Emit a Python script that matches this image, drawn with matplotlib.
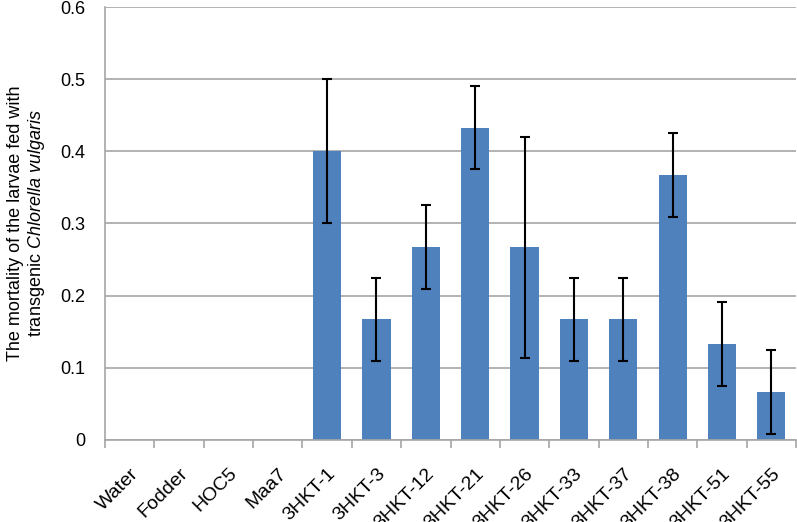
import matplotlib.pyplot as plt
import numpy as np

plt.rcParams['font.family'] = ['Liberation Sans', 'DejaVu Sans']
plt.rcParams['mathtext.fontset'] = 'custom'
plt.rcParams['mathtext.rm'] = 'Liberation Sans'
plt.rcParams['mathtext.it'] = 'Liberation Sans:italic'

categories = ['Water', 'Fodder', 'HOC5', 'Maa7', '3HKT-1', '3HKT-3', '3HKT-12',
              '3HKT-21', '3HKT-26', '3HKT-33', '3HKT-37', '3HKT-38', '3HKT-51',
              '3HKT-55']
mortality = [0, 0, 0, 0, 0.400, 0.167, 0.267, 0.433, 0.267, 0.167, 0.167,
             0.367, 0.133, 0.067]
errors = [np.nan, np.nan, np.nan, np.nan, 0.100, 0.058, 0.058, 0.058, 0.153,
          0.058, 0.058, 0.058, 0.058, 0.058]
yticks = [0, 0.1, 0.2, 0.3, 0.4, 0.5, 0.6]
ytick_labels = ['0', '0.1', '0.2', '0.3', '0.4', '0.5', '0.6']

fig = plt.figure(figsize=(7.97, 5.22), dpi=100)
ax = fig.add_axes([105 / 797, 1 - 440 / 522, 691 / 797, 433 / 522])

x = np.arange(len(categories))
ax.bar(x, mortality, width=0.57, color='#4F81BD', zorder=2)
ax.errorbar(x, mortality, yerr=errors, fmt='none', ecolor='black',
            elinewidth=1.5, capsize=3.8, capthick=1.5, zorder=3)

ax.set_xlim(-0.5, len(categories) - 0.5)
ax.set_ylim(0, 0.6)
ax.set_yticks(yticks)
ax.set_yticklabels(ytick_labels, fontsize=13)
ax.yaxis.grid(True, color='#A6A6A6', linewidth=1.2, zorder=0)
ax.set_axisbelow(True)
ax.tick_params(axis='y', length=0, pad=14)

ax.set_xticks(x)
ax.set_xticklabels(categories, rotation=45, ha='right', rotation_mode='anchor',
                   fontsize=14)
ax.set_xticks(np.arange(len(categories) + 1) - 0.5, minor=True)
ax.tick_params(axis='x', which='major', length=0, pad=18)
ax.tick_params(axis='x', which='minor', length=6, color='#A6A6A6', width=1.2)

for side in ['top', 'right']:
    ax.spines[side].set_visible(False)
for side in ['left', 'bottom']:
    ax.spines[side].set_color('#A6A6A6')
    ax.spines[side].set_linewidth(1.2)

ax.set_ylabel('The mortality of the larvae fed with\n'
              r'transgenic $\it{Chlorella\ vulgaris}$', fontsize=13,
              linespacing=1.1, labelpad=10)

fig.savefig('out.png', dpi=100)
